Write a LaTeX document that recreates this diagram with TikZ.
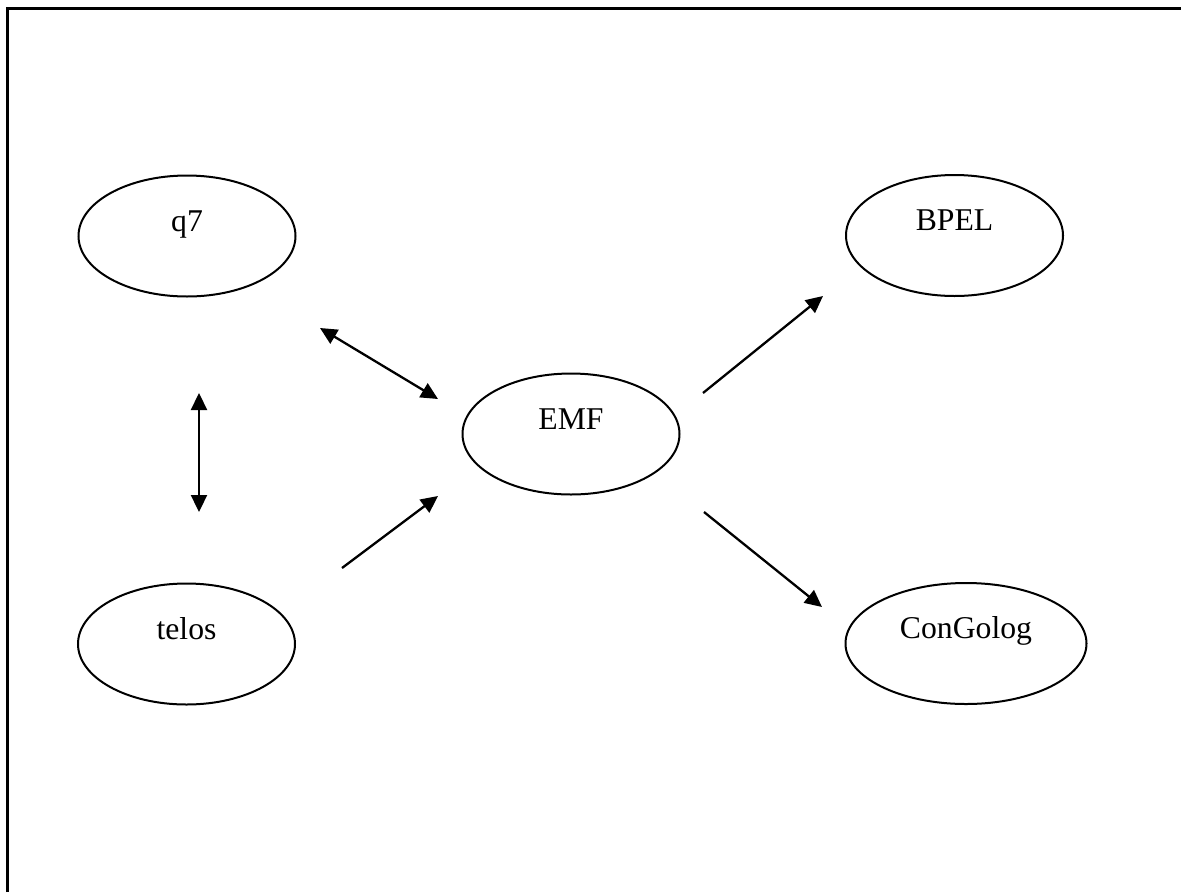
\documentclass[tikz,border=0pt]{standalone}
\usepackage{fontspec}
\setmainfont{Liberation Serif}
\usetikzlibrary{shapes.geometric,arrows.meta}
\begin{document}
\begin{tikzpicture}[x=1pt,y=-1pt,
  oval/.style={draw,ellipse,line width=2pt,inner sep=0pt,
    minimum width=217pt,minimum height=121pt,
    text height=22pt,text depth=32pt,
    font=\fontsize{31.7}{38}\selectfont},
  tip/.tip={Triangle[length=17pt,width=16pt]},
  link/.style={line width=2.3pt,-tip},
  biglink/.style={line width=2.3pt,tip-tip}]
  \useasboundingbox (0,0) rectangle (1181,892);
  % frame lines along the top and left edges
  \coordinate (fl) at (7,892);
  \coordinate (fc) at (7,8);
  \coordinate (fr) at (1181,8);
  \draw[line width=3pt] (fl) -- (fc) -- (fr);

  % model nodes
  \node[oval] (q7)    at (187,236)   {q7};
  \node[oval] (telos) at (186.5,644) {telos};
  \node[oval] (emf)   at (571,434)   {EMF};
  \node[oval] (bpel)  at (954.5,235.5) {BPEL};
  \node[oval,minimum width=241pt] (cg) at (966,643.5) {ConGolog};

  % free arrow ends between the nodes
  \coordinate (q7a)  at (199,393);
  \coordinate (tea)  at (199,512);
  \coordinate (q7b)  at (320,328);
  \coordinate (emfa) at (438,399);
  \coordinate (teb)  at (342,568);
  \coordinate (emfb) at (438,496);
  \coordinate (emfc) at (703,393);
  \coordinate (bpa)  at (823,296);
  \coordinate (emfd) at (704,512);
  \coordinate (cga)  at (822,607);

  \draw[biglink] (q7a) -- (tea);
  \draw[biglink] (q7b) -- (emfa);
  \draw[link] (teb) -- (emfb);
  \draw[link] (emfc) -- (bpa);
  \draw[link] (emfd) -- (cga);
\end{tikzpicture}
\end{document}
